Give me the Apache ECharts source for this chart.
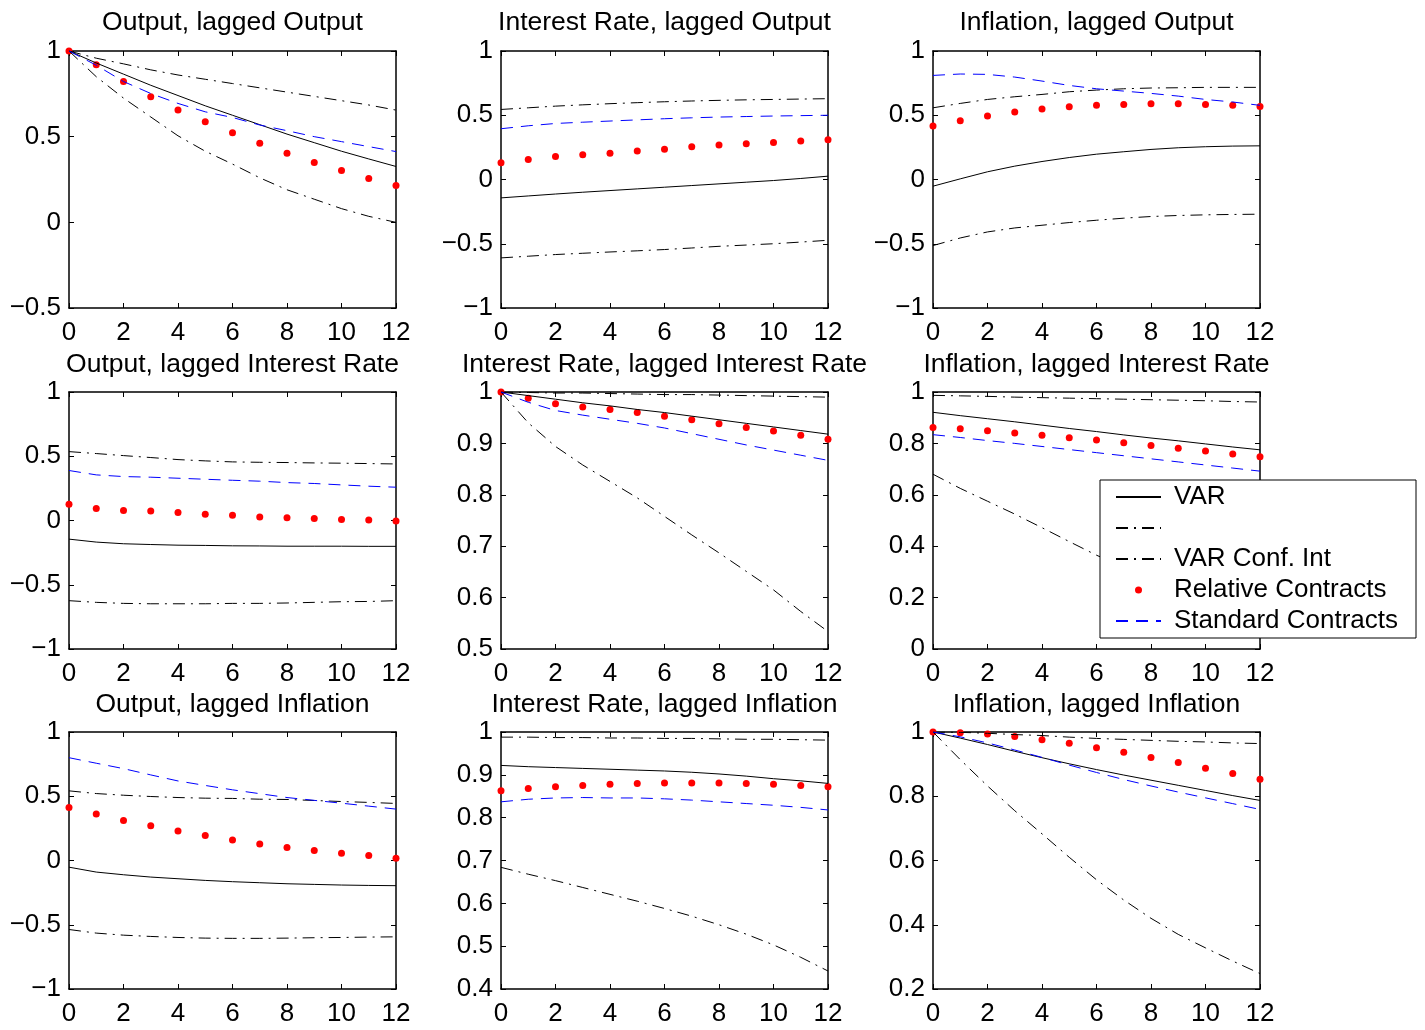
<!DOCTYPE html>
<html>
<head>
<meta charset="utf-8">
<script src="https://cdn.jsdelivr.net/npm/echarts@6/dist/echarts.min.js"></script>
<style>
html, body { margin: 0; padding: 0; background: #fff; }
#main { width: 1425px; height: 1030px; }
</style>
</head>
<body>
<div id="main"></div>
<script>
var lags = [0, 1, 2, 3, 4, 5, 6, 7, 8, 9, 10, 11, 12];

var titles = [
    'Output, lagged Output', 'Interest Rate, lagged Output', 'Inflation, lagged Output',
    'Output, lagged Interest Rate', 'Interest Rate, lagged Interest Rate', 'Inflation, lagged Interest Rate',
    'Output, lagged Inflation', 'Interest Rate, lagged Inflation', 'Inflation, lagged Inflation'
];
var yMin = [-0.5, -1, -1, -1, 0.5, 0, -1, 0.4, 0.2];
var yMax = [1, 1, 1, 1, 1, 1, 1, 1, 1];
var yStep = [0.5, 0.5, 0.5, 0.5, 0.1, 0.2, 0.5, 0.1, 0.2];

// VAR point estimate (solid)
var varLine = [
    [1.0, 0.93, 0.865, 0.80, 0.74, 0.68, 0.625, 0.57, 0.515, 0.465, 0.415, 0.37, 0.326],
    [-0.143, -0.128, -0.113, -0.099, -0.086, -0.073, -0.06, -0.047, -0.034, -0.021, -0.008, 0.008, 0.026],
    [-0.052, 0.005, 0.06, 0.104, 0.14, 0.171, 0.197, 0.216, 0.234, 0.247, 0.255, 0.26, 0.262],
    [-0.145, -0.168, -0.181, -0.187, -0.192, -0.194, -0.197, -0.198, -0.2, -0.2, -0.2, -0.201, -0.201],
    [1.0, 0.993, 0.986, 0.979, 0.973, 0.966, 0.96, 0.953, 0.946, 0.939, 0.932, 0.925, 0.918],
    [0.921, 0.908, 0.896, 0.884, 0.871, 0.858, 0.846, 0.833, 0.821, 0.81, 0.798, 0.786, 0.775],
    [-0.052, -0.09, -0.111, -0.129, -0.142, -0.155, -0.165, -0.173, -0.181, -0.186, -0.191, -0.194, -0.196],
    [0.922, 0.919, 0.917, 0.915, 0.913, 0.911, 0.909, 0.906, 0.902, 0.897, 0.891, 0.886, 0.88],
    [1, 0.981, 0.961, 0.94, 0.92, 0.901, 0.883, 0.866, 0.85, 0.834, 0.818, 0.802, 0.787]
];
// confidence band, upper and lower (dash-dot)
var confUpper = [
    [1, 0.958, 0.925, 0.89, 0.86, 0.835, 0.81, 0.785, 0.76, 0.735, 0.71, 0.685, 0.655],
    [0.545, 0.558, 0.571, 0.581, 0.59, 0.598, 0.605, 0.611, 0.616, 0.62, 0.623, 0.626, 0.629],
    [0.558, 0.592, 0.623, 0.644, 0.662, 0.683, 0.696, 0.706, 0.712, 0.714, 0.717, 0.717, 0.717],
    [0.536, 0.521, 0.505, 0.49, 0.474, 0.464, 0.456, 0.453, 0.451, 0.448, 0.446, 0.443, 0.44],
    [1, 0.999, 0.998, 0.998, 0.997, 0.996, 0.995, 0.995, 0.994, 0.993, 0.992, 0.991, 0.99],
    [0.987, 0.985, 0.983, 0.98, 0.978, 0.976, 0.974, 0.972, 0.97, 0.968, 0.966, 0.963, 0.961],
    [0.542, 0.521, 0.508, 0.498, 0.49, 0.485, 0.483, 0.477, 0.475, 0.467, 0.459, 0.452, 0.444],
    [0.988, 0.988, 0.987, 0.987, 0.986, 0.986, 0.985, 0.985, 0.984, 0.983, 0.983, 0.982, 0.981],
    [1, 0.999, 0.996, 0.992, 0.989, 0.984, 0.98, 0.977, 0.974, 0.971, 0.969, 0.966, 0.964]
];
var confLower = [
    [1, 0.85, 0.725, 0.615, 0.505, 0.415, 0.34, 0.26, 0.19, 0.135, 0.08, 0.035, 0.0],
    [-0.61, -0.597, -0.584, -0.574, -0.564, -0.555, -0.545, -0.533, -0.52, -0.51, -0.5, -0.487, -0.473],
    [-0.514, -0.455, -0.408, -0.377, -0.356, -0.335, -0.317, -0.301, -0.288, -0.28, -0.275, -0.272, -0.27],
    [-0.624, -0.637, -0.645, -0.648, -0.648, -0.648, -0.645, -0.645, -0.642, -0.637, -0.632, -0.63, -0.624],
    [1, 0.94, 0.894, 0.858, 0.826, 0.794, 0.758, 0.722, 0.687, 0.651, 0.615, 0.573, 0.534],
    [0.68, 0.625, 0.575, 0.525, 0.472, 0.418, 0.365, 0.318, 0.272, 0.228, 0.185, 0.143, 0.1],
    [-0.537, -0.565, -0.581, -0.591, -0.599, -0.604, -0.606, -0.606, -0.604, -0.601, -0.599, -0.596, -0.594],
    [0.684, 0.668, 0.653, 0.637, 0.621, 0.605, 0.588, 0.57, 0.55, 0.528, 0.503, 0.474, 0.442],
    [1, 0.914, 0.832, 0.755, 0.683, 0.61, 0.54, 0.477, 0.42, 0.37, 0.328, 0.287, 0.248]
];
// model responses
var relative = [
    [1.0, 0.92, 0.822, 0.733, 0.655, 0.587, 0.523, 0.461, 0.403, 0.349, 0.302, 0.256, 0.215],
    [0.13, 0.156, 0.179, 0.192, 0.205, 0.221, 0.236, 0.255, 0.268, 0.278, 0.288, 0.299, 0.309],
    [0.416, 0.457, 0.494, 0.525, 0.548, 0.566, 0.577, 0.584, 0.59, 0.59, 0.584, 0.577, 0.569],
    [0.127, 0.093, 0.078, 0.073, 0.062, 0.049, 0.041, 0.028, 0.021, 0.016, 0.008, 0.003, -0.003],
    [1.0, 0.988, 0.977, 0.971, 0.966, 0.96, 0.953, 0.946, 0.938, 0.931, 0.924, 0.916, 0.908],
    [0.862, 0.857, 0.849, 0.84, 0.832, 0.822, 0.813, 0.803, 0.792, 0.781, 0.77, 0.759, 0.748],
    [0.413, 0.361, 0.312, 0.271, 0.23, 0.194, 0.16, 0.129, 0.101, 0.077, 0.057, 0.039, 0.018],
    [0.863, 0.868, 0.872, 0.875, 0.878, 0.88, 0.881, 0.881, 0.881, 0.88, 0.878, 0.875, 0.872],
    [1, 0.998, 0.994, 0.986, 0.976, 0.965, 0.951, 0.937, 0.921, 0.905, 0.887, 0.871, 0.853]
];
var standard = [
    [1, 0.917, 0.822, 0.752, 0.694, 0.645, 0.612, 0.568, 0.535, 0.5, 0.471, 0.442, 0.413],
    [0.395, 0.418, 0.436, 0.446, 0.455, 0.464, 0.473, 0.48, 0.486, 0.49, 0.494, 0.497, 0.5],
    [0.81, 0.821, 0.818, 0.797, 0.766, 0.732, 0.706, 0.688, 0.67, 0.649, 0.623, 0.603, 0.577],
    [0.389, 0.355, 0.342, 0.337, 0.329, 0.321, 0.313, 0.306, 0.295, 0.288, 0.277, 0.267, 0.259],
    [1, 0.98, 0.964, 0.955, 0.947, 0.939, 0.93, 0.919, 0.908, 0.897, 0.887, 0.877, 0.867],
    [0.834, 0.823, 0.811, 0.8, 0.788, 0.776, 0.764, 0.752, 0.74, 0.728, 0.716, 0.704, 0.692],
    [0.8, 0.757, 0.715, 0.666, 0.619, 0.584, 0.55, 0.52, 0.49, 0.468, 0.446, 0.423, 0.4],
    [0.837, 0.843, 0.846, 0.847, 0.846, 0.846, 0.844, 0.841, 0.837, 0.833, 0.829, 0.824, 0.818],
    [1, 0.985, 0.966, 0.944, 0.921, 0.897, 0.874, 0.852, 0.832, 0.813, 0.795, 0.777, 0.759]
];

var myChart = echarts.init(document.getElementById('main'));
var font = "'Liberation Sans', Arial, Helvetica, sans-serif";
var colLeft = [69, 501, 933];
var rowTop = [51, 392, 732];
var titleTop = [9, 351, 691];
var plotW = 327, plotH = 257;
var dashDot = [12, 6, 2, 6];

function fmt(v) {
    return String(Math.round(v * 100) / 100).replace('-', '\u2212');
}
function pairs(arr) {
    return arr.map(function (v, i) { return [lags[i], v]; });
}

var grids = [], xAxes = [], yAxes = [], titleList = [], series = [];
var frame = { onZero: false, lineStyle: { color: '#000', width: 1.5 } };
var tick = { inside: true, length: 5, lineStyle: { color: '#000', width: 1 } };
// line series: hide the marker that the legend would draw on the sample line
var noMarker = { color: '#000', opacity: 0 };

for (var k = 0; k < 9; k++) {
    var c = k % 3, r = Math.floor(k / 3);
    grids.push({ left: colLeft[c], top: rowTop[r], width: plotW, height: plotH, containLabel: false, outerBoundsMode: 'none' });
    titleList.push({
        text: titles[k], left: colLeft[c] + plotW / 2, top: titleTop[r], textAlign: 'center', padding: 0,
        textStyle: { fontSize: 26.5, fontWeight: 'normal', fontFamily: font, color: '#000' }
    });
    ['bottom', 'top'].forEach(function (pos) {
        xAxes.push({
            gridIndex: k, type: 'value', position: pos, min: 0, max: 12, interval: 2,
            axisLine: frame, axisTick: tick, splitLine: { show: false },
            axisLabel: { show: pos === 'bottom', color: '#000', fontSize: 26, fontFamily: font, margin: 12 }
        });
    });
    ['left', 'right'].forEach(function (pos) {
        yAxes.push({
            gridIndex: k, type: 'value', position: pos, min: yMin[k], max: yMax[k], interval: yStep[k],
            axisLine: frame, axisTick: tick, splitLine: { show: false },
            axisLabel: { show: pos === 'left', color: '#000', fontSize: 26, fontFamily: font, margin: 8, formatter: fmt }
        });
    });
    var ax = { xAxisIndex: 2 * k, yAxisIndex: 2 * k, silent: true };
    series.push(Object.assign({
        type: 'line', name: 'VAR', symbol: 'none', itemStyle: noMarker,
        lineStyle: { color: '#000', width: 1 }, data: pairs(varLine[k])
    }, ax));
    series.push(Object.assign({
        type: 'line', name: 'VAR upper', symbol: 'none', itemStyle: noMarker,
        lineStyle: { color: '#000', width: 1, type: dashDot }, data: pairs(confUpper[k])
    }, ax));
    series.push(Object.assign({
        type: 'line', name: 'VAR Conf. Int', symbol: 'none', itemStyle: noMarker,
        lineStyle: { color: '#000', width: 1, type: dashDot }, data: pairs(confLower[k])
    }, ax));
    series.push(Object.assign({
        type: 'scatter', name: 'Relative Contracts', symbol: 'circle', symbolSize: 7,
        itemStyle: { color: '#ff0000', opacity: 1 }, data: pairs(relative[k])
    }, ax));
    series.push(Object.assign({
        type: 'line', name: 'Standard Contracts', symbol: 'none', itemStyle: { color: '#0000ff', opacity: 0 },
        lineStyle: { color: '#0000ff', width: 1, type: [12, 8] }, data: pairs(standard[k])
    }, ax));
}

option = {
    backgroundColor: '#fff',
    animation: false,
    title: titleList,
    grid: grids,
    xAxis: xAxes,
    yAxis: yAxes,
    legend: {
        orient: 'vertical',
        left: 1100,
        top: 480,
        padding: [4, 18, 4, 15],
        itemGap: 5,
        itemWidth: 45,
        itemHeight: 7,
        selectedMode: false,
        backgroundColor: '#fff',
        borderColor: '#000',
        borderWidth: 1,
        z: 10,
        data: ['VAR', 'VAR upper', 'VAR Conf. Int', 'Relative Contracts', 'Standard Contracts'],
        formatter: function (name) {
            return name === 'VAR upper' ? '\u00a0' : name;
        },
        textStyle: { fontSize: 26, fontFamily: font, color: '#000', padding: [0, 0, 0, 8] }
    },
    series: series
};

myChart.setOption(option);
</script>
</body>
</html>
